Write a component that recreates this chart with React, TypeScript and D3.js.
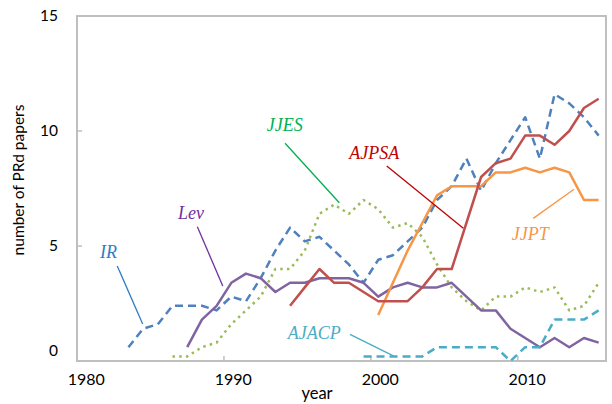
import React, { useEffect, useRef } from 'react';
import * as d3 from 'd3';

// values (3-year style averages, step ~0.2)
const irStart = 1983;
const irValues = [0.6, 1.4, 1.6, 2.4, 2.4, 2.4, 2.2, 2.8, 2.6, 3.6, 4.8, 5.8, 5.2, 5.4, 4.8, 4.2, 3.4,
    4.4, 4.6, 5.2, 5.8, 7.0, 7.6, 8.8, 7.4, 8.6, 9.6, 10.6, 8.8, 11.6, 11.2, 10.6, 9.8];
const levStart = 1987;
const levValues = [0.6, 1.8, 2.4, 3.4, 3.8, 3.6, 3.0, 3.4, 3.4, 3.6, 3.6, 3.6, 3.4, 2.8, 3.2, 3.4,
    3.2, 3.2, 3.4, 2.8, 2.2, 2.2, 1.4, 1.0, 0.6, 1.0, 0.6, 1.0, 0.8];
const jjesStart = 1986;
const jjesValues = [0.2, 0.2, 0.6, 0.8, 1.6, 2.2, 2.8, 4.0, 4.0, 4.8, 6.4, 6.8, 6.4, 7.0, 6.6, 5.8,
    6.0, 5.4, 4.2, 3.2, 2.6, 2.2, 2.8, 2.8, 3.2, 3.0, 3.2, 2.2, 2.4, 3.4];
const ajpsaStart = 1994;
const ajpsaValues = [2.4, 3.2, 4.0, 3.4, 3.4, 3.0, 2.6, 2.6, 2.6, 3.2, 4.0, 4.0, 6.0, 8.0, 8.6, 8.8,
    9.8, 9.8, 9.4, 10.0, 11.0, 11.4];
const jjptStart = 2000;
const jjptValues = [2.0, 3.4, 4.8, 6.0, 7.2, 7.6, 7.6, 7.6, 8.2, 8.2, 8.4, 8.2, 8.4, 8.2, 7.0, 7.0];
const ajacpStart = 1999;
const ajacpValues = [0.2, 0.2, 0.2, 0.2, 0.2, 0.6, 0.6, 0.6, 0.6, 0.6, 0.0, 0.6, 0.6, 1.8, 1.8, 1.8, 2.2];

const yTicks = [0, 5, 10, 15];
const xTickYears = [1980, 1990, 2000, 2010];

// label text, label anchor (year, value) and leader line ends in data units
const labelNames = ['IR', 'Lev', 'JJES', 'AJPSA', 'JJPT', 'AJACP'];
const labelPos = [[1981.07, 4.49], [1986.37, 6.16], [1992.41, 10.0], [1998.03, 8.77], [2009.08, 5.26], [1993.84, 0.96]];
const leaderLines = [
    [[1982.24, 4.13], [1983.97, 1.61]],
    [[1987.69, 5.84], [1989.42, 3.26]],
    [[1993.66, 9.47], [1997.35, 6.88]],
    [[2000.58, 8.48], [2005.79, 5.77]],
    [[2010.55, 6.2], [2013.32, 7.47]],
    [[1998.08, 1.16], [2001.03, 0.22]],
];
const labelColors = ['#2f7bc4', '#7030a0', '#00b050', '#c00000', '#f79646', '#4bacc6'];

const App: React.FC = () => {
    const chartRef = useRef<SVGSVGElement | null>(null);

    useEffect(() => {
        if (!chartRef.current) return;
        const width = 612;
        const height = 404;
        const left = 77, right = 606, top = 16, bottom = 361;

        const svg = d3.select(chartRef.current);
        svg.selectAll('*').remove();
        svg.attr('width', width).attr('height', height);

        const x = d3.scaleLinear().domain([1979.5, 2015.5]).range([left, right]);
        const y = d3.scaleLinear().domain([0, 15]).range([bottom, top]);

        // frame
        svg.append('rect')
            .attr('x', left).attr('y', top)
            .attr('width', right - left).attr('height', bottom - top)
            .attr('fill', 'none').attr('stroke', '#bfbfbf').attr('stroke-width', 2);

        // inward ticks
        [1989.5, 1999.5, 2009.5].forEach(t => {
            svg.append('line')
                .attr('x1', x(t)).attr('x2', x(t))
                .attr('y1', bottom).attr('y2', bottom - 5)
                .attr('stroke', '#bfbfbf').attr('stroke-width', 1.5);
        });
        [5, 10].forEach(t => {
            svg.append('line')
                .attr('x1', left).attr('x2', left + 5)
                .attr('y1', y(t)).attr('y2', y(t))
                .attr('stroke', '#bfbfbf').attr('stroke-width', 1.5);
        });

        // tick labels
        svg.selectAll('text.ytick')
            .data(yTicks)
            .enter()
            .append('text')
            .attr('class', 'ytick')
            .attr('x', 58)
            .attr('y', d => (d === 0 ? y(d) - 10 : y(d)))
            .attr('dy', '0.35em')
            .attr('text-anchor', 'end')
            .style('font-family', 'Lato, sans-serif')
            .style('font-size', '15.5px')
            .style('fill', '#000')
            .text(d => d);

        svg.selectAll('text.xtick')
            .data(xTickYears)
            .enter()
            .append('text')
            .attr('class', 'xtick')
            .attr('x', d => x(d) + 2)
            .attr('y', 385)
            .attr('text-anchor', 'middle')
            .style('font-family', 'Lato, sans-serif')
            .style('font-size', '16px')
            .style('fill', '#000')
            .text(d => d);

        svg.append('text')
            .attr('transform', 'translate(24,180) rotate(-90)')
            .attr('text-anchor', 'middle')
            .style('font-family', 'Lato, sans-serif')
            .style('font-size', '15.5px')
            .text('number of PRd papers');

        svg.append('text')
            .attr('x', 317).attr('y', 399)
            .attr('text-anchor', 'middle')
            .style('font-family', 'Lato, sans-serif')
            .style('font-size', '16.5px')
            .text('year');

        const line = d3.line<[number, number]>()
            .x(d => x(d[0]))
            .y(d => y(d[1]));

        const toPoints = (start: number, vals: number[]) =>
            vals.map((v, i) => [start + i, v] as [number, number]);

        const series = [
            { pts: toPoints(irStart, irValues), color: '#4f81bd', dash: '8,5' },
            { pts: toPoints(jjesStart, jjesValues), color: '#9bbb59', dash: '2.5,4.2' },
            { pts: toPoints(levStart, levValues), color: '#8064a2', dash: null },
            { pts: toPoints(jjptStart, jjptValues), color: '#f79646', dash: null },
            { pts: toPoints(ajpsaStart, ajpsaValues), color: '#c0504d', dash: null },
            { pts: toPoints(ajacpStart, ajacpValues), color: '#4bacc6', dash: '8,5' },
        ];

        series.forEach(s => {
            svg.append('path')
                .datum(s.pts)
                .attr('d', line)
                .attr('fill', 'none')
                .attr('stroke', s.color)
                .attr('stroke-width', 2.5)
                .attr('stroke-linejoin', 'round')
                .attr('stroke-dasharray', s.dash);
        });

        // annotations
        leaderLines.forEach((l, i) => {
            svg.append('line')
                .attr('x1', x(l[0][0])).attr('y1', y(l[0][1]))
                .attr('x2', x(l[1][0])).attr('y2', y(l[1][1]))
                .attr('stroke', labelColors[i])
                .attr('stroke-width', 1.3);
        });

        svg.selectAll('text.label')
            .data(labelNames)
            .enter()
            .append('text')
            .attr('class', 'label')
            .attr('x', (d, i) => x(labelPos[i][0]))
            .attr('y', (d, i) => y(labelPos[i][1]))
            .style('font-family', '"Liberation Serif", serif')
            .style('font-style', 'italic')
            .style('font-size', '18px')
            .style('fill', (d, i) => labelColors[i])
            .text(d => d);
    }, []);

    return (
        <div style={{ position: 'absolute', left: 0, top: 0 }}>
            <svg ref={chartRef} style={{ display: 'block' }} />
        </div>
    );
};

export default App;
